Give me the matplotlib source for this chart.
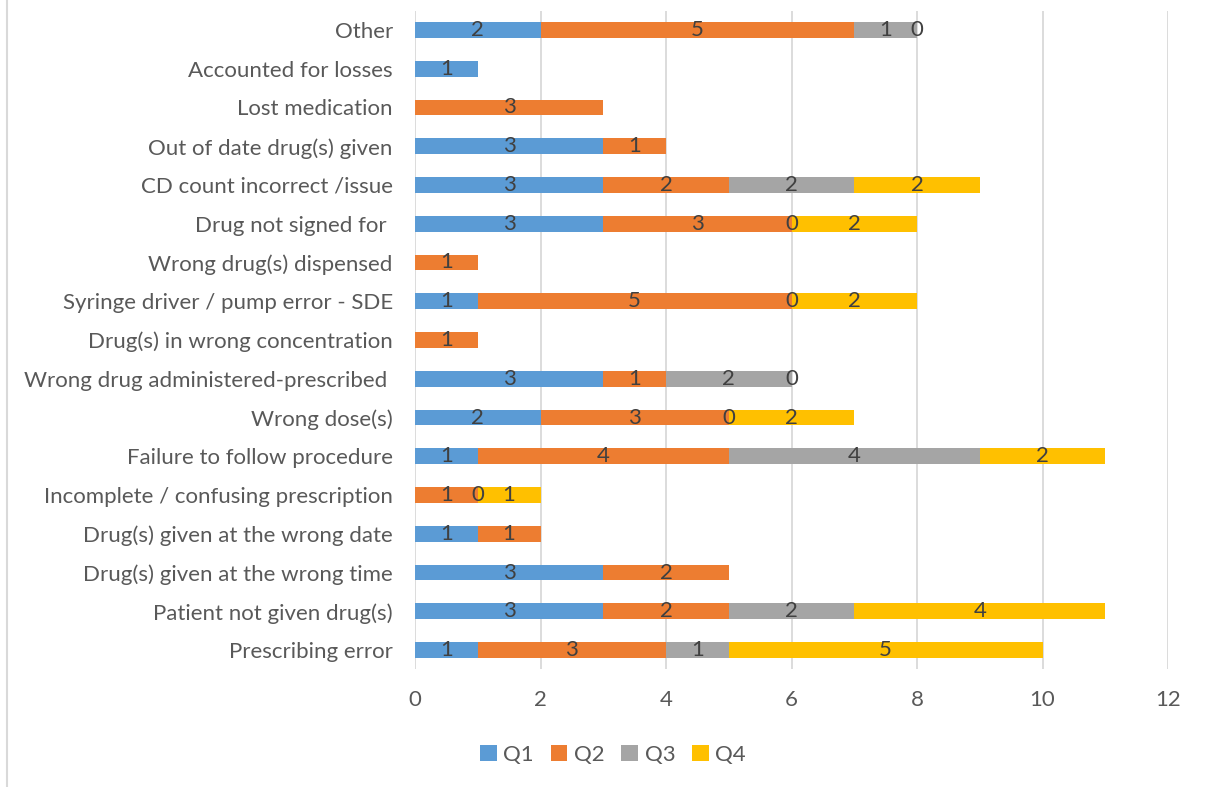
import matplotlib
matplotlib.use("Agg")
import matplotlib.pyplot as plt
import numpy as np
from matplotlib.lines import Line2D
from matplotlib.patches import Patch

categories = [
    "Prescribing error",
    "Patient not given drug(s)",
    "Drug(s) given at the wrong time",
    "Drug(s) given at the wrong date",
    "Incomplete / confusing prescription",
    "Failure to follow procedure",
    "Wrong dose(s)",
    "Wrong drug administered-prescribed ",
    "Drug(s) in wrong concentration",
    "Syringe driver / pump error - SDE",
    "Wrong drug(s) dispensed",
    "Drug not signed for ",
    "CD count incorrect /issue",
    "Out of date drug(s) given",
    "Lost medication",
    "Accounted for losses",
    "Other",
]
nan = np.nan
q1 = [1, 3, 3, 1, nan, 1, 2, 3, nan, 1, nan, 3, 3, 3, nan, 1, 2]
q2 = [3, 2, 2, 1, 1, 4, 3, 1, 1, 5, 1, 3, 2, 1, 3, nan, 5]
q3 = [1, 2, nan, nan, 0, 4, 0, 2, nan, 0, nan, 0, 2, nan, nan, nan, 1]
q4 = [5, 4, nan, nan, 1, 2, 2, 0, nan, 2, nan, 2, 2, nan, nan, nan, 0]
series = {"Q1": q1, "Q2": q2, "Q3": q3, "Q4": q4}
colors = {"Q1": "#5B9BD5", "Q2": "#ED7D31", "Q3": "#A5A5A5", "Q4": "#FFC000"}
xticks = [0, 2, 4, 6, 8, 10, 12]

plt.rcParams['font.family'] = ['Lato', 'DejaVu Sans']
fig = plt.figure(figsize=(12.05, 7.87), dpi=100)
ax = fig.add_axes([415/1205, 1-669.4/787, (1168-415)/1205, (669.4-10.6)/787])

y = np.arange(len(categories))
left = np.zeros(len(categories))
for name, vals in series.items():
    v = np.array(vals, dtype=float)
    w = np.nan_to_num(v)
    ax.barh(y, w, left=left, height=0.41, color=colors[name], zorder=3)
    for i, val in enumerate(v):
        if not np.isnan(val):
            ax.text(left[i] + w[i] / 2, y[i], f"{int(val)}", ha="center", va="center",
                    fontsize=16, color="#404040", zorder=4)
    left = left + w

ax.set_xlim(0, 12)
ax.set_ylim(-0.5, len(categories) - 0.5)
ax.set_xticks(xticks)
ax.set_yticks(y)
ax.set_yticklabels(categories)
ax.grid(axis="x", color="#d9d9d9", linewidth=1.3, zorder=0)
for s in ax.spines.values():
    s.set_visible(False)
ax.tick_params(axis="both", length=0, labelsize=16, colors="#595959")
ax.tick_params(axis="y", pad=16)
ax.tick_params(axis="x", pad=15)

handles = [Patch(facecolor=colors[n], label=n) for n in series]
fig.legend(handles=handles, loc="center", bbox_to_anchor=(613/1205, 1-755/787), ncol=4,
           frameon=False, fontsize=16, handlelength=0.75, handleheight=0.75,
           handletextpad=0.3, columnspacing=0.75, labelcolor="#595959")

fig.add_artist(Line2D([7/1205, 7/1205], [0, 1], color="#d9d9d9", linewidth=1.5))

fig.savefig("out.png", dpi=100)
